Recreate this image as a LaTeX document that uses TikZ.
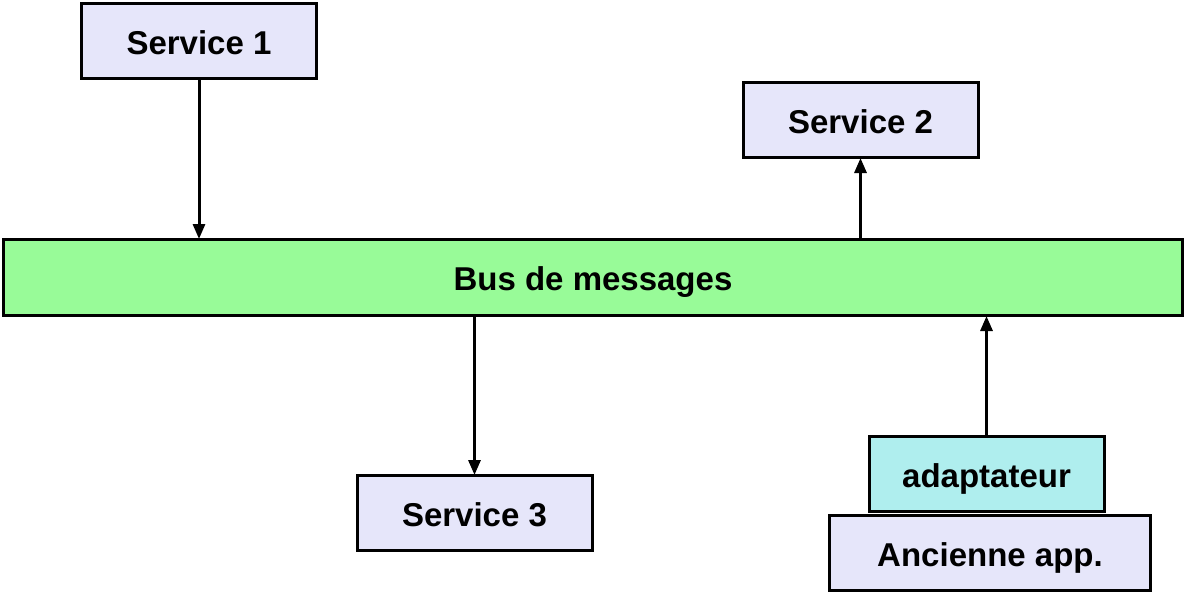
\documentclass[tikz,border=0pt]{standalone}
\usepackage{fontspec}
\setmainfont{Liberation Sans}
\usetikzlibrary{arrows.meta}
\definecolor{lav}{RGB}{230,230,250}
\definecolor{pgreen}{RGB}{152,251,152}
\definecolor{pturq}{RGB}{175,238,238}
\tikzset{
  box/.style={draw=black, line width=3pt, minimum width=235pt, minimum height=75pt, inner sep=0pt, text height=26.6pt, text depth=0pt, font=\fontsize{33}{38}\selectfont\bfseries, fill=lav},
  conn/.style={line width=3pt, -{Triangle[length=15pt,width=12pt]}, shorten >=-1pt},
}
\begin{document}
\begin{tikzpicture}[x=1pt,y=-1pt]
\useasboundingbox (0,0) rectangle (1186,595);
\node[box] (s1) at (199,41) {Service 1};
\node[box] (s2) at (860.5,120) {Service 2};
\node[box, fill=pgreen, minimum width=1179pt, minimum height=76pt] (bus) at (593,277.5) {Bus de messages};
\node[box] (s3) at (474.5,513) {Service 3};
\node[box, fill=pturq] (ad) at (986.5,474) {adaptateur};
\node[box, minimum width=321pt] (old) at (990,553) {Ancienne app.};
\draw[conn] (s1.south) -- (s1.south |- bus.north);
\draw[conn] (s2.south |- bus.north) -- (s2.south);
\draw[conn] (bus.south -| s3.north) -- (s3.north);
\draw[conn] (ad.north) -- (ad.north |- bus.south);
\end{tikzpicture}
\end{document}
